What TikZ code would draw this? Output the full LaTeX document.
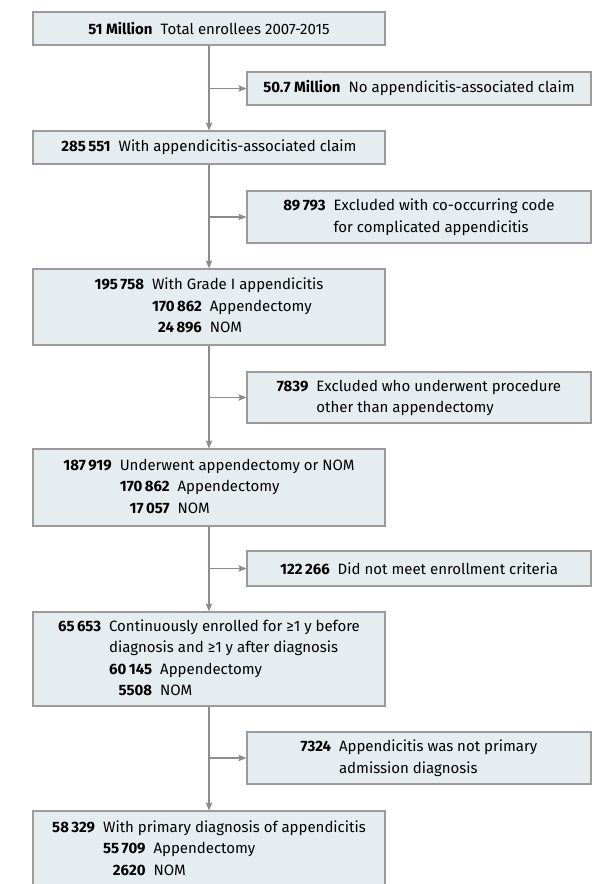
\documentclass[tikz,border=0pt]{standalone}
\usepackage{fontspec}
\setmainfont{Fira Sans}
\usetikzlibrary{arrows.meta}
\definecolor{boxfill}{HTML}{E6EDF1}
\definecolor{boxline}{HTML}{9B9B9B}
\definecolor{conn}{HTML}{8C8C8C}
\tikzset{
  mainbox/.style={draw=boxline, fill=boxfill, line width=1.2pt, minimum width=352pt, inner sep=0pt, align=center, font=\fontsize{15}{21.5}\selectfont},
  sidebox/.style={draw=boxline, fill=boxfill, line width=1.2pt, minimum width=344pt, inner sep=0pt, align=center, font=\fontsize{15}{21.5}\selectfont},
  arr/.style={draw=conn, line width=1.2pt, -{Stealth[length=8pt,width=6.5pt,inset=1.5pt]}},
}
\newcommand{\nb}[1]{\textbf{#1}}
\begin{document}
\begin{tikzpicture}[x=1pt,y=-1pt]
\useasboundingbox (0,0) rectangle (592,884);
\clip (0,0) rectangle (592,884);
\setlength{\tabcolsep}{4pt}
% main boxes
\node[mainbox, minimum height=33pt] (b1) at (209,28.5) {\nb{51 Million}\hspace{8pt}Total enrollees 2007-2015};
\node[mainbox, minimum height=33pt] (b2) at (209,147.5) {\nb{285\,551}\hspace{8pt}With appendicitis-associated claim};
\node[mainbox, minimum height=76pt] (b3) at (209,307) {\begin{tabular}{@{}r r l@{}}
\nb{195\,758} & \multicolumn{2}{l@{}}{With Grade I appendicitis}\\
 & \nb{170\,862} & Appendectomy\\
 & \nb{24\,896} & NOM
\end{tabular}};
\node[mainbox, minimum height=77pt] (b4) at (209,487.5) {\begin{tabular}{@{}r r l@{}}
\nb{187\,919} & \multicolumn{2}{l@{}}{Underwent appendectomy or NOM}\\
 & \nb{170\,862} & Appendectomy\\
 & \nb{17\,057} & NOM
\end{tabular}};
\node[mainbox, minimum height=94pt] (b5) at (209,659) {\begin{tabular}{@{}r r l@{}}
\nb{65\,653} & \multicolumn{2}{l@{}}{Continuously enrolled for ≥1 y before}\\
 & \multicolumn{2}{l@{}}{diagnosis and ≥1 y after diagnosis}\\
 & \nb{60\,145} & Appendectomy\\
 & \nb{5508} & NOM
\end{tabular}};
\node[mainbox, minimum height=77pt] (b6) at (209,849.5) {\begin{tabular}{@{}r r l@{}}
\nb{58\,329} & \multicolumn{2}{l@{}}{With primary diagnosis of appendicitis}\\
 & \nb{55\,709} & Appendectomy\\
 & \nb{2620} & NOM
\end{tabular}};
% side boxes
\node[sidebox, minimum height=33pt] (s1) at (419,88.5) {\nb{50.7 Million}\hspace{8pt}No appendicitis-associated claim};
\node[sidebox, minimum height=52pt] (s2) at (419,217) {\begin{tabular}{@{}r l@{}}
\nb{89\,793} & Excluded with co-occurring code\\
 & for complicated appendicitis
\end{tabular}};
\node[sidebox, minimum height=51pt] (s3) at (419,397.5) {\begin{tabular}{@{}r l@{}}
\nb{7839} & Excluded who underwent procedure\\
 & other than appendectomy
\end{tabular}};
\node[sidebox, minimum height=35pt] (s4) at (419,568.5) {\nb{122\,266}\hspace{8pt}Did not meet enrollment criteria};
\node[sidebox, minimum height=52pt] (s5) at (419,758) {\begin{tabular}{@{}r l@{}}
\nb{7324} & Appendicitis was not primary\\
 & admission diagnosis
\end{tabular}};
% connectors
\draw[arr] (b1) -- (b2);
\draw[arr] (b2) -- (b3);
\draw[arr] (b3) -- (b4);
\draw[arr] (b4) -- (b5);
\draw[arr] (b5) -- (b6);
\draw[arr] (b1.south |- s1.west) -- (s1.west);
\draw[arr] (b2.south |- s2.west) -- (s2.west);
\draw[arr] (b3.south |- s3.west) -- (s3.west);
\draw[arr] (b4.south |- s4.west) -- (s4.west);
\draw[arr] (b5.south |- s5.west) -- (s5.west);
\end{tikzpicture}
\end{document}
